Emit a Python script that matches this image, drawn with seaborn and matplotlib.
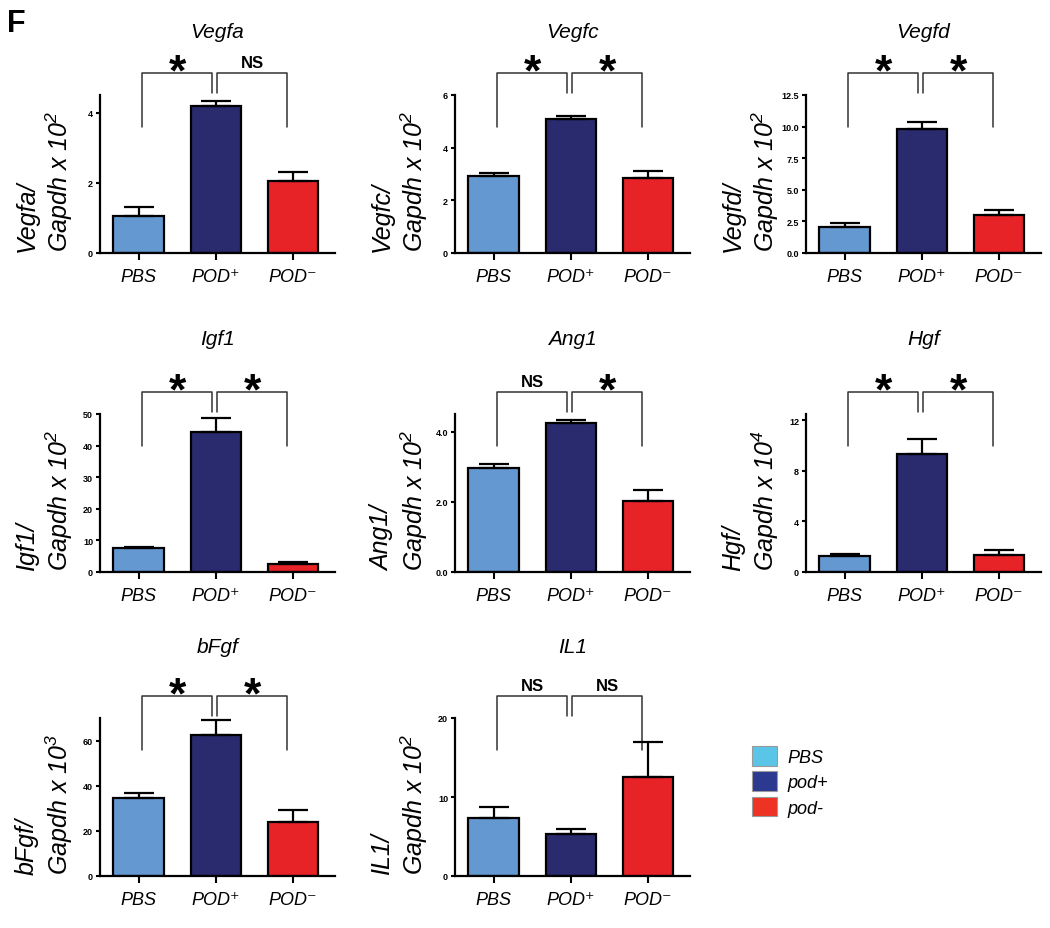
import matplotlib
matplotlib.use("Agg")
import matplotlib.pyplot as plt
import seaborn as sns
import numpy as np
from matplotlib.patches import Patch
from matplotlib.transforms import blended_transform_factory

# groups and colours
groups = ["PBS", "POD+", "POD-"]
group_ticklabels = ["PBS", "POD\u207a", "POD\u207b"]
bar_colors = ["#6498D0", "#2A2A6E", "#E82328"]
legend_labels = ["PBS", "pod+", "pod-"]
legend_colors = ["#5BC5E8", "#2B3990", "#EE3224"]

# values (mean, upper error)
vegfa_mean = [1.05, 4.18, 2.05]
vegfa_err = [0.27, 0.15, 0.27]
vegfc_mean = [2.94, 5.07, 2.85]
vegfc_err = [0.08, 0.12, 0.25]
vegfd_mean = [2.08, 9.81, 2.97]
vegfd_err = [0.31, 0.59, 0.45]
igf1_mean = [7.6, 44.4, 2.6]
igf1_err = [0.3, 4.2, 0.6]
ang1_mean = [2.97, 4.23, 2.03]
ang1_err = [0.12, 0.09, 0.30]
hgf_mean = [1.24, 9.35, 1.32]
hgf_err = [0.16, 1.15, 0.45]
bfgf_mean = [34.7, 62.4, 23.8]
bfgf_err = [2.0, 6.8, 5.4]
il1_mean = [7.4, 5.3, 12.5]
il1_err = [1.35, 0.64, 4.4]

genes = ["Vegfa", "Vegfc", "Vegfd", "Igf1", "Ang1", "Hgf", "bFgf", "IL1"]
exponents = [2, 2, 2, 2, 2, 4, 3, 2]
means = [vegfa_mean, vegfc_mean, vegfd_mean, igf1_mean, ang1_mean, hgf_mean, bfgf_mean, il1_mean]
errs = [vegfa_err, vegfc_err, vegfd_err, igf1_err, ang1_err, hgf_err, bfgf_err, il1_err]
ymax = [4.5, 6, 12.5, 50, 4.5, 12.5, 70, 20]
yticks = [[0, 2, 4], [0, 2, 4, 6], [0, 2.5, 5, 7.5, 10, 12.5], [0, 10, 20, 30, 40, 50],
          [0, 2, 4], [0, 4, 8, 12], [0, 20, 40, 60], [0, 10, 20]]
ytick_fmt = ["{:g}", "{:g}", "{:.1f}", "{:g}", "{:.1f}", "{:g}", "{:g}", "{:g}"]
signif = [["*", "NS"], ["*", "*"], ["*", "*"], ["*", "*"],
          ["NS", "*"], ["*", "*"], ["*", "*"], ["NS", "NS"]]

sns.set_style("ticks")
plt.rcParams["font.family"] = ["Liberation Sans", "DejaVu Sans"]
plt.rcParams["mathtext.fontset"] = "custom"
plt.rcParams["mathtext.rm"] = "Liberation Sans:italic"
plt.rcParams["mathtext.it"] = "Liberation Sans:italic"
plt.rcParams["mathtext.bf"] = "Liberation Sans:bold"
for k in ["text.color", "axes.labelcolor", "xtick.color", "ytick.color", "axes.edgecolor"]:
    plt.rcParams[k] = "black"

W, H = 1050, 929
fig = plt.figure(figsize=(W / 100, H / 100), dpi=100)

# axes placement in pixels: left spine x, x-axis baseline y
col_left = [100, 455, 806]
row_base = [254, 573, 877]
ax_w, ax_h = 235, 158
title_y = [1.37, 1.44, 1.42]

for i, gene in enumerate(genes):
    r, c = divmod(i, 3)
    ax = fig.add_axes([col_left[c] / W, 1 - row_base[r] / H, ax_w / W, ax_h / H])

    sns.barplot(x=groups, y=means[i], hue=groups, palette=bar_colors, width=0.65,
                saturation=1, edgecolor="black", linewidth=1.6, legend=False, ax=ax)
    ax.errorbar(x=np.arange(3), y=means[i], yerr=[np.zeros(3), errs[i]], fmt="none",
                ecolor="black", elinewidth=1.6, capsize=11, capthick=1.6, zorder=5)

    ax.set_xlim(-0.5, 2.55)
    ax.set_ylim(0, ymax[i])
    ax.set_yticks(yticks[i])
    ax.set_yticklabels([ytick_fmt[i].format(v) for v in yticks[i]],
                       fontsize=6.5, fontweight="bold")
    ax.set_xticks(range(3))
    ax.set_xticklabels(group_ticklabels, fontsize=13, fontstyle="italic")
    ax.set_xlabel("")
    ax.tick_params(axis="x", length=5, width=1.5, pad=6)
    ax.tick_params(axis="y", length=3, width=1.5, pad=2)
    sns.despine(ax=ax)
    for s in ["left", "bottom"]:
        ax.spines[s].set_linewidth(1.6)

    ax.set_ylabel(f"{gene}/\nGapdh x $10^{{{exponents[i]}}}$", fontsize=18,
                  fontstyle="italic", multialignment="left")
    ax.yaxis.set_label_coords(-0.105, 0.46)

    ax.text(0.5, title_y[r], gene, transform=ax.transAxes, ha="center",
            va="baseline", fontsize=15, fontstyle="italic")

    # significance brackets
    tr = blended_transform_factory(ax.transData, ax.transAxes)
    top, side, mid = 1.14, 0.80, 1.01
    for (x0, x1), lab in zip([(0.05, 0.96), (1.02, 1.93)], signif[i]):
        ax.plot([x0, x0, x1, x1], [side if x0 < 0.5 else mid, top, top, mid if x1 < 1.5 else side],
                transform=tr, color="#333333", lw=1.1, clip_on=False)
        xm = (x0 + x1) / 2
        if lab == "*":
            ax.text(xm, top - 0.07, "*", transform=tr, ha="center", va="baseline",
                    fontsize=32, fontweight="bold")
        else:
            ax.text(xm, top + 0.04, lab, transform=tr, ha="center", va="baseline",
                    fontsize=12, fontweight="bold")

handles = [Patch(facecolor=col, edgecolor="#9a9a9a", lw=0.8, label=lab)
           for col, lab in zip(legend_colors, legend_labels)]
fig.legend(handles=handles, loc="upper left", bbox_to_anchor=(752 / W, 1 - 747 / H),
           frameon=False, handlelength=1.4, handleheight=1.3, handletextpad=0.55,
           labelspacing=0.3, borderpad=0, borderaxespad=0,
           prop={"size": 13, "style": "italic"})

fig.text(7 / W, 1 - 9 / H, "F", fontsize=22, fontweight="bold", va="top", ha="left")

fig.savefig("out.png", dpi=100)
